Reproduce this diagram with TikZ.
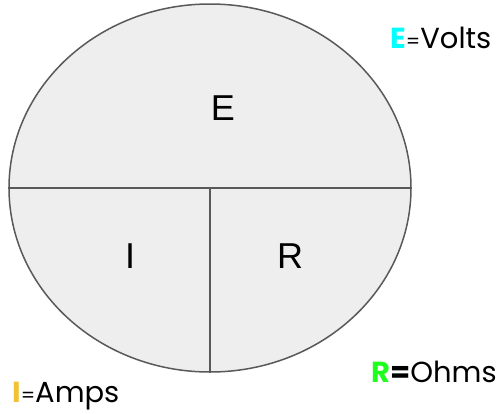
\documentclass[tikz,border=0pt]{standalone}
\usepackage{fontspec}
\setmainfont{Liberation Sans}
\newfontfamily\legendfont{Poppins}
\usetikzlibrary{shapes.geometric}
\definecolor{linegray}{HTML}{595959}
\definecolor{fillgray}{HTML}{EEEEEE}
\definecolor{ecyan}{HTML}{00FFFF}
\definecolor{rgreen}{HTML}{1EFF1E}
\definecolor{igold}{HTML}{F1C232}
\begin{document}
\begin{tikzpicture}[x=1pt,y=-1pt,
  divider/.style={draw=linegray,line width=1.5pt},
  letter/.style={font=\fontsize{36}{36}\selectfont,anchor=base,inner sep=0},
  legend/.style={font=\legendfont\fontsize{29}{29}\selectfont,anchor=base west,inner sep=0}]
\useasboundingbox (0,0) rectangle (502,413);
\node[ellipse,draw=linegray,fill=fillgray,line width=1.5pt,minimum width=402pt,minimum height=368pt,inner sep=0] (ell) at (210,188) {};
\draw[divider] (ell.west) -- (ell.east);
\draw[divider] (ell.center) -- (ell.south);
\node[letter] (e) at (223,120) {E};
\node[letter] (i) at (130,268) {I};
\node[letter] (r) at (290,268) {R};
\node[legend] (ev) at (390,48) {\textcolor{ecyan}{\textbf{E}}\fontsize{20}{20}\selectfont=\fontsize{29}{29}\selectfont Volts};
\node[legend] (ro) at (371,382) {\textcolor{rgreen}{\textbf{R}}\textbf{=}Ohms};
\node[legend] (ia) at (12,402) {\textcolor{igold}{\textbf{I}}\fontsize{20}{20}\selectfont=\fontsize{29}{29}\selectfont Amps};
\end{tikzpicture}
\end{document}
